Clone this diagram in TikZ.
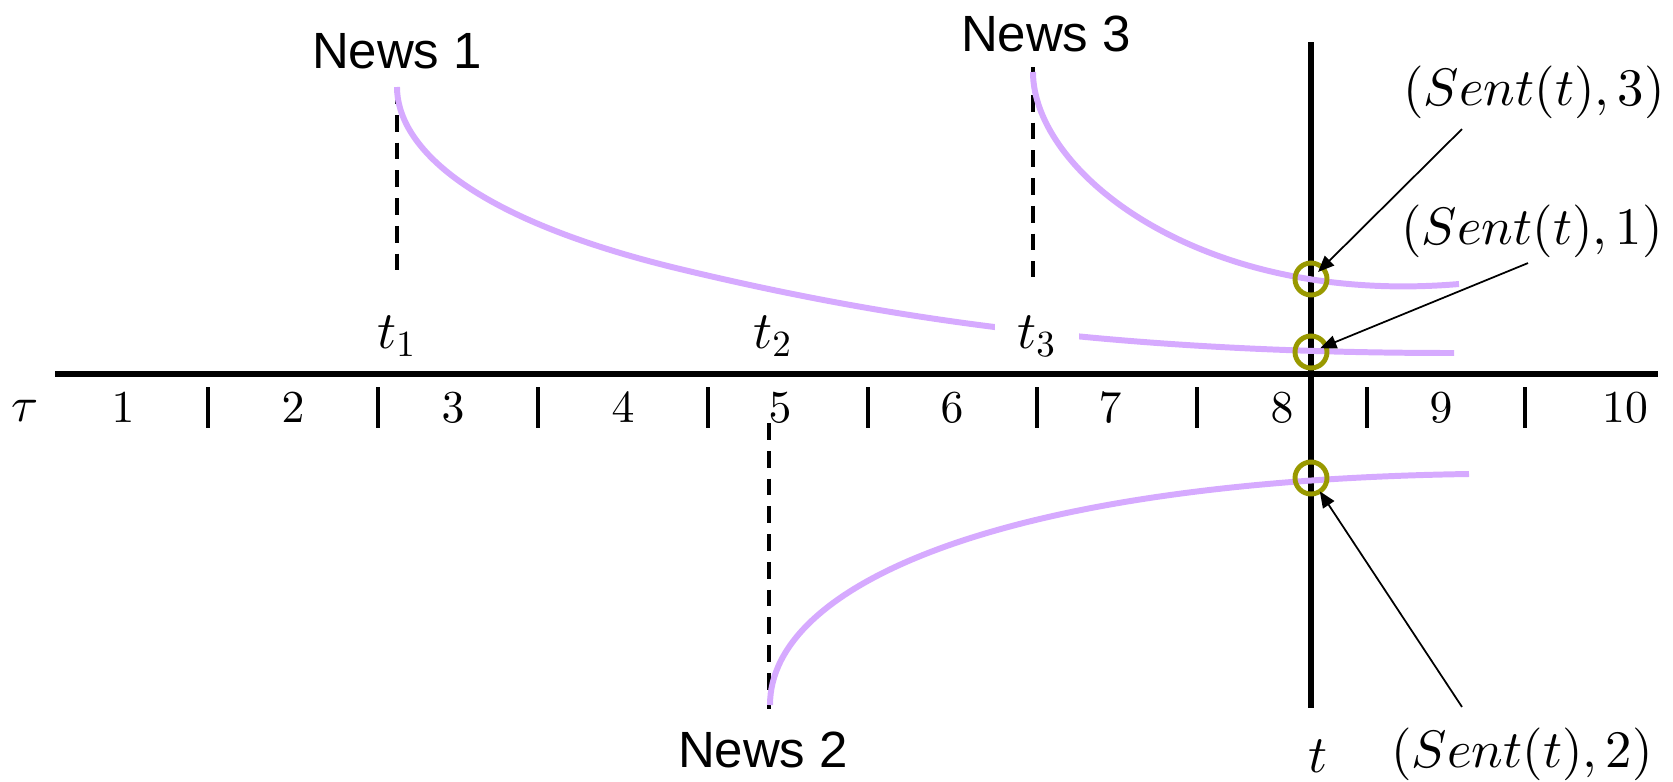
\documentclass[tikz,border=0pt]{standalone}
\usepackage{fontspec}
\usepackage{tikz}
\usetikzlibrary{arrows.meta,calc}
\newfontfamily\newsfont{Liberation Sans}
\DeclareFontShape{OML}{cmm}{m}{it}{<->cmmi10}{}
\DeclareFontShape{OT1}{cmr}{m}{n}{<->cmr10}{}
\definecolor{decaylilac}{RGB}{214,170,255}
\definecolor{hitolive}{RGB}{153,153,0}

\begin{document}
\begin{tikzpicture}[
  decay/.style = {draw=decaylilac, line width=1.7pt},
  guide/.style = {draw=black, line width=1.2pt, dash pattern=on 4.8pt off 3.1pt},
  axis/.style  = {draw=black, line width=1.9pt},
  tick/.style  = {draw=black, line width=0.95pt},
  hit/.style   = {circle, draw=hitolive, line width=1.4pt, minimum size=3.2mm, inner sep=0pt},
  arr/.style   = {-{Triangle[length=4.6pt,width=3.8pt]}, line width=0.5pt, draw=black},
  news/.style  = {font=\newsfont\fontsize{14.5}{17}\selectfont, inner sep=0pt},
  lbl/.style   = {font=\fontsize{15}{18}\selectfont, inner sep=0pt},
  num/.style   = {font=\fontsize{13}{15}\selectfont, inner sep=0pt},
]
\useasboundingbox (0,0) rectangle (16.73,7.81);

% time axis and the current time t
\draw[axis] (0.55,4.07) -- (16.58,4.07);
\draw[axis, line width=1.5pt] (13.11,7.39) -- (13.11,0.73);
\node[num, font=\fontsize{14}{16}\selectfont] (tau) at (0.25,3.70) {$\tau$};
\foreach \n/\x in {1/1.23, 2/2.93, 3/4.53, 4/6.23, 5/7.80, 6/9.52, 7/11.10, 8/12.82, 9/14.41, 10/16.25}
  \node[num] (tau\n) at (\x,3.73) {$\n$};
\foreach \x in {2.08, 3.78, 5.38, 7.08, 8.68, 10.37, 11.97, 13.67, 15.25}
  \draw[tick] (\x,3.94) -- (\x,3.53);

% news events
\coordinate (e1) at (3.97,6.94);
\coordinate (e2) at (7.70,0.76);
\coordinate (e3) at (10.33,7.09);
\node[news] (news1) at (3.97,7.30) {News 1};
\node[news] (news3) at (10.46,7.47) {News 3};
\node[news] (news2) at (7.63,0.31) {News 2};

\draw[guide] (3.97,6.94) -- (3.97,5.11);
\draw[guide] (10.33,7.14) -- (10.33,5.04);
\draw[guide] (7.69,3.58) -- (7.69,0.72);

% sentiment decay curves
\draw[decay] (e1) .. controls (3.97,6.39) and (4.60,5.65) .. (6.80,5.12)
                  .. controls (8.80,4.64) and (11.04,4.28) .. (14.54,4.28);
\draw[decay] (e3) .. controls (10.33,6.09) and (12.00,4.75) .. (14.59,4.97);
\draw[decay] (e2) .. controls (7.70,1.96) and (10.00,3.00) .. (14.69,3.07);

\node[lbl] (t1) at (3.97,4.45) {$t_1$};
\node[lbl] (t2) at (7.73,4.45) {$t_2$};
\node[lbl, fill=white, inner xsep=0.22cm] (t3) at (10.37,4.45) {$t_3$};
\node[lbl] (tnow) at (13.18,0.25) {$t$};

% values read at t
\node[hit] (hit3) at (13.11,5.02) {};
\node[hit] (hit1) at (13.11,4.29) {};
\node[hit] (hit2) at (13.11,3.03) {};
\node[lbl] (sent3) at (15.34,6.89) {$(Sent(t),3)$};
\node[lbl] (sent1) at (15.32,5.50) {$(Sent(t),1)$};
\node[lbl] (sent2) at (15.22,0.27) {$(Sent(t),2)$};
\draw[arr, shorten >=1mm] ($(sent3.south)+(-0.72,-0.1)$) -- (hit3.center);
\draw[arr, shorten >=1mm] ($(sent1.south)+(-0.04,-0.05)$) -- (hit1.center);
\draw[arr, shorten >=1.6mm] ($(sent2.north)+(-0.60,0.2)$) -- (hit2.center);
\end{tikzpicture}
\end{document}
